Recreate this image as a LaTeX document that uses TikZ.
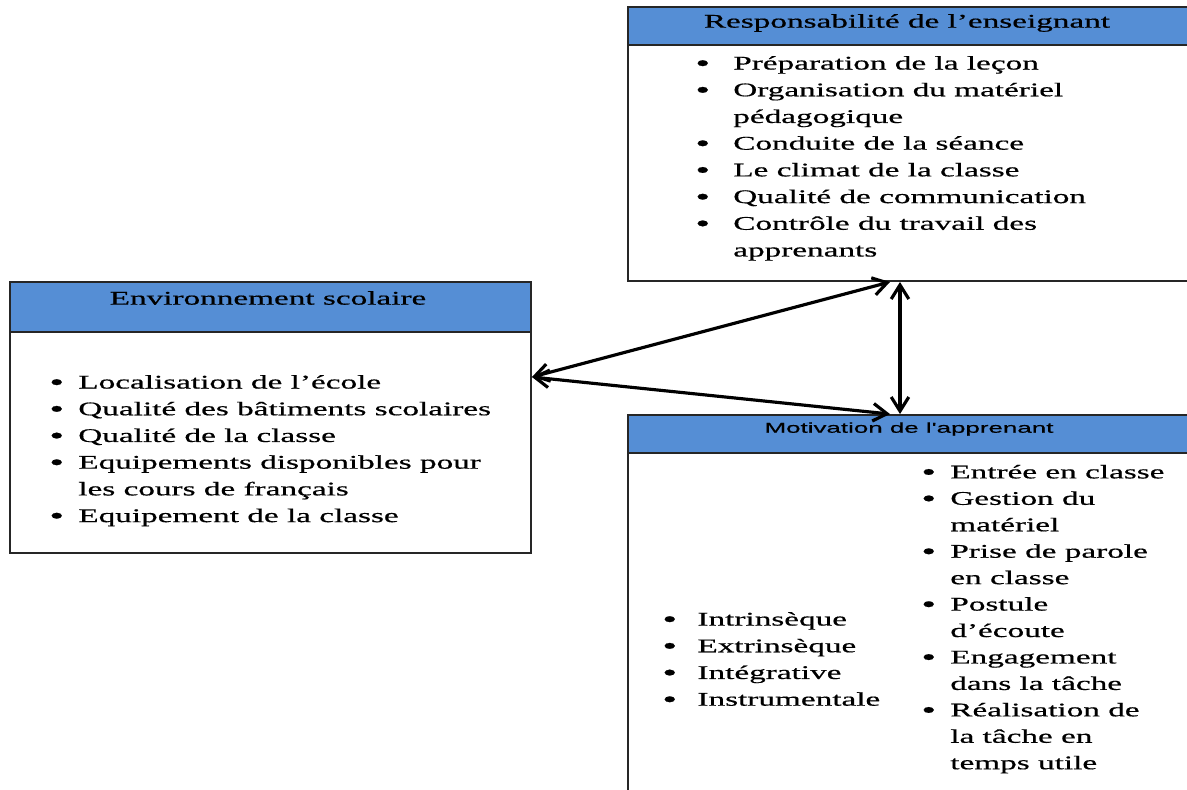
\documentclass[tikz,border=0pt]{standalone}
\usepackage{fontspec}
\setmainfont{Liberation Serif}[FakeStretch=1.72,FakeBold=0.6]
\newfontfamily\headsans{Liberation Sans}[FakeStretch=1.8,FakeBold=0.6]
\usetikzlibrary{arrows.meta,fit}
\definecolor{headblue}{RGB}{85,142,213}
\newlength{\pucew}
\newcommand{\lst}{\fontsize{11}{15.2}\selectfont}
\newcommand{\puce}{\makebox[\pucew][l]{\raisebox{-1pt}{\fontsize{14}{15.2}\selectfont\textbullet}}}

\begin{document}
\begin{tikzpicture}[x=0.02cm,y=-0.02cm,
  frame/.style={draw=black!85,line width=1.1pt,inner sep=0pt},
  headband/.style={frame,fill=headblue},
  title/.style={inner sep=0pt,font=\lst},
  items/.style={anchor=north west,inner sep=0pt,align=left,font=\lst\setlength{\pucew}{#1}},
  link/.style={{Straight Barb[length=8pt,width=10pt]}-{Straight Barb[length=8pt,width=10pt]},line width=1.8pt}]
  \useasboundingbox (0,0) rectangle (1187,789);

  % responsabilite de l'enseignant
  \node[frame,fit={(628,7) (1189,281)}] (resp) {};
  \node[headband,fit={(628,7) (1189,45)}] (resphead) {};
  \node[title] (resptitle) at (907,23) {Responsabilité de l’enseignant};
  \node[items=21.6pt] (resplist) at (695,50.5) {\strut\puce Préparation de la leçon\\
    \puce Organisation du matériel\\
    \hspace*{\pucew}pédagogique\\
    \puce Conduite de la séance\\
    \puce Le climat de la classe\\
    \puce Qualité de communication\\
    \puce Contrôle du travail des\\
    \hspace*{\pucew}apprenants};

  % environnement scolaire
  \node[frame,fit={(10,282) (531,553)}] (env) {};
  \node[headband,fit={(10,282) (531,332)}] (envhead) {};
  \node[title] (envtitle) at (268,298) {Environnement scolaire};
  \node[items=16.5pt] (envlist) at (49,369.5) {\strut\puce Localisation de l’école\\
    \puce Qualité des bâtiments scolaires\\
    \puce Qualité de la classe\\
    \puce Equipements disponibles pour\\
    \hspace*{\pucew}les cours de français\\
    \puce Equipement de la classe};

  % motivation de l'apprenant
  \node[frame,fit={(628,415) (1189,791)}] (motiv) {};
  \node[headband,fit={(628,415) (1189,453)}] (motivhead) {};
  \node[title,font=\headsans\fontsize{8.2}{10}\selectfont] (motivtitle) at (909,429) {Motivation de l'apprenant};
  \node[items=20pt] (motivtypes) at (662,606.5) {\strut\puce Intrinsèque\\
    \puce Extrinsèque\\
    \puce Intégrative\\
    \puce Instrumentale};
  \node[items=16.5pt,font=\fontsize{11}{15.05}\selectfont\setlength{\pucew}{16.5pt}] (motivsignes) at (921,459.5) {\strut\puce Entrée en classe\\
    \puce Gestion du\\
    \hspace*{\pucew}matériel\\
    \puce Prise de parole\\
    \hspace*{\pucew}en classe\\
    \puce Postule\\
    \hspace*{\pucew}d’écoute\\
    \puce Engagement\\
    \hspace*{\pucew}dans la tâche\\
    \puce Réalisation de\\
    \hspace*{\pucew}la tâche en\\
    \hspace*{\pucew}temps utile};

  \coordinate (envpt) at (env.east |- 0,377);
  \coordinate (resppt) at (resp.south -| 890,0);
  \coordinate (motivpt) at (motiv.north -| 890,0);
  \draw[link] (envpt) -- (resppt);
  \draw[link] (envpt) -- (motivpt);
  \draw[link] (resp.south -| 900,0) -- (motiv.north -| 900,0);
\end{tikzpicture}
\end{document}
